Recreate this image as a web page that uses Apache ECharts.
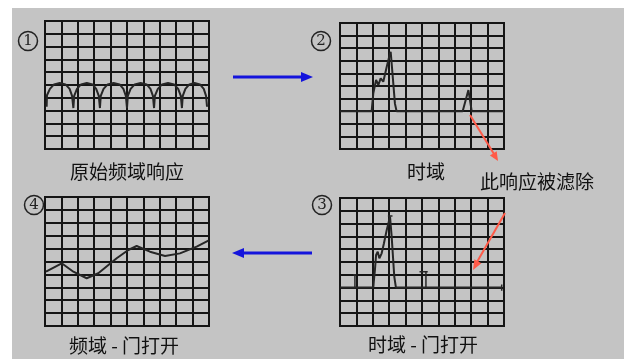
<!DOCTYPE html>
<html><head><meta charset="utf-8">
<script src="https://cdn.jsdelivr.net/npm/echarts@6/dist/echarts.min.js"></script>
<style>html,body{margin:0;padding:0;background:#fff}#c{width:624px;height:359px}</style>
</head><body><div id="c"></div>
<script>
// Panel ① original frequency response (scalloped)
const freqOriginal = [
 [0.1,3.3],[0.12,4.2],[0.3,4.7],[0.55,5.05],[0.9,5.15],[1.25,5.05],[1.5,4.7],[1.65,4.15],[1.73,3.2],
 [1.78,4.15],[1.95,4.7],[2.2,5.05],[2.55,5.15],[2.9,5.05],[3.12,4.7],[3.28,4.15],[3.35,3.2],
 [3.4,4.15],[3.57,4.7],[3.82,5.05],[4.18,5.15],[4.55,5.05],[4.78,4.7],[4.93,4.15],[5.0,3.2],
 [5.05,4.15],[5.22,4.7],[5.47,5.05],[5.83,5.15],[6.2,5.05],[6.43,4.7],[6.58,4.15],[6.65,3.2],
 [6.7,4.15],[6.88,4.7],[7.14,5.05],[7.5,5.15],[7.87,5.05],[8.12,4.7],[8.28,4.15],[8.35,3.2],
 [8.4,4.15],[8.56,4.7],[8.8,5.05],[9.12,5.15],[9.45,5.05],[9.68,4.7],[9.82,4.15],[9.88,3.3]
];
// Panel ② time domain
const timeDomain = [
 [0,3],[1.93,3],[2.03,4.42],[2.2,5.48],[2.34,5.08],[2.48,5.6],[2.64,5.34],[2.85,6.53],[3.0,7.33],[3.09,7.72],
 [3.2,6.0],[3.35,3.6],[3.45,3],[7.48,3],[7.83,4.68],[8.03,3],[10,3]
];
// Panel ③ time domain, gate on
const timeGated = [
 [0,3],[2.03,3],[2.06,3.46],[2.13,4.38],[2.2,5.55],[2.3,5.8],[2.4,5.29],[2.54,5.68],[2.68,6.46],[2.85,7.5],
 [3.05,8.54],[3.15,6.98],[3.31,3.85],[3.41,3],[9.86,3]
];
const gateMarkA = [[0.8,4],[1.0,4]];
const gateMarkAStem = [[0.91,4],[0.91,3]];
const gateMarkB = [[4.85,4.24],[5.35,4.24]];
const gateMarkBStem = [[5.24,4.24],[5.24,3]];
const peakMark = [[2.92,8.6],[3.2,8.6]];
const endMark = [[9.86,2.75],[9.86,3.25]];
// Panel ④ frequency domain, gate on
const freqGated = [
 [0.06,4.21],[1.02,4.86],[1.73,4.21],[2.54,3.7],[3.25,4.09],[4.37,5.25],[5.08,5.89],[5.59,6.2],
 [6.4,5.76],[7.32,5.43],[8.23,5.63],[9.25,6.15],[9.96,6.61]
];
const titles = ['原始频域响应','时域','时域 - 门打开','频域 - 门打开'];
const note = '此响应被滤除';
const nums = ['1','2','3','4'];

const chart = echarts.init(document.getElementById('c'), null, {renderer:'canvas'});
const grids = [
 {left:45, top:21, width:164, height:128},
 {left:340, top:23, width:164, height:126},
 {left:340, top:198, width:164, height:128},
 {left:45, top:197, width:164, height:129}
];
const GL = '#151515';
function ax(i){
 return {type:'value', gridIndex:i, min:0, max:10, interval:1,
  axisLabel:{show:false}, axisTick:{show:false},
  axisLine:{show:true, lineStyle:{color:GL, width:2}},
  splitLine:{show:true, lineStyle:{color:GL, width:2}}};
}
function ser(i, data, w){
 return {type:'line', xAxisIndex:i, yAxisIndex:i, data:data, symbol:'none', silent:true,
  lineStyle:{color:'#262626', width:w||2}, z:5, animation:false};
}
function arrowHead(pts, color){
 return {type:'polygon', shape:{points:pts}, style:{fill:color}, z:20};
}
const blue = '#1414dc', red = '#ff5a48';
const txt = {fill:'#111', fontSize:19, fontFamily:'Noto Sans CJK SC', textAlign:'center', textVerticalAlign:'middle'};
function label(s, x, y){ return {type:'text', x:x, y:y, style:Object.assign({text:s}, txt), z:20}; }
function circ(n, cx, cy){
 return [
  {type:'circle', shape:{cx:cx, cy:cy, r:9.5}, style:{fill:'none', stroke:'#222', lineWidth:1.5}, z:20},
  {type:'text', x:cx, y:cy+0.5, style:{text:n, fill:'#222', fontSize:15, fontFamily:'DejaVu Serif', textAlign:'center', textVerticalAlign:'middle'}, z:20}
 ];
}
chart.setOption({
 animation:false,
 backgroundColor:'#ffffff',
 grid: grids.map(g=>Object.assign({show:true, backgroundColor:'#c4c4c4', borderColor:GL, borderWidth:2}, g)),
 xAxis:[0,1,2,3].map(ax),
 yAxis:[0,1,2,3].map(ax),
 series:[
  ser(0, freqOriginal),
  ser(1, timeDomain),
  ser(2, timeGated),
  ser(2, gateMarkA, 1.5), ser(2, gateMarkAStem, 1.5),
  ser(2, gateMarkB, 1.5), ser(2, gateMarkBStem, 1.5),
  ser(2, peakMark, 1.5), ser(2, endMark, 1.5),
  ser(3, freqGated)
 ],
 graphic:[
  {type:'rect', shape:{x:12, y:8, width:612, height:351}, style:{fill:'#c4c4c4'}, z:-100, silent:true},
  label(titles[0], 127, 172),
  label(titles[1], 426, 172),
  label(titles[2], 423, 345),
  label(titles[3], 124, 346),
  label(note, 537, 182),
  ...circ(nums[0], 28, 41),
  ...circ(nums[1], 321, 41),
  ...circ(nums[2], 322, 205),
  ...circ(nums[3], 34, 205),
  {type:'line', shape:{x1:233, y1:77, x2:304, y2:77}, style:{stroke:blue, lineWidth:3}, z:20},
  arrowHead([[313,77],[301,72],[301,82]], blue),
  {type:'line', shape:{x1:312, y1:253, x2:241, y2:253}, style:{stroke:blue, lineWidth:3}, z:20},
  arrowHead([[232,253],[244,248],[244,258]], blue),
  {type:'line', shape:{x1:470, y1:115, x2:494, y2:154}, style:{stroke:red, lineWidth:2}, z:20},
  arrowHead([[498,161],[489.9,155.4],[496.7,151.2]], red),
  {type:'line', shape:{x1:505, y1:213, x2:477, y2:262}, style:{stroke:red, lineWidth:2}, z:20},
  arrowHead([[473,270],[481.4,263.3],[474.4,259.3]], red)
 ]
});
</script></body></html>
